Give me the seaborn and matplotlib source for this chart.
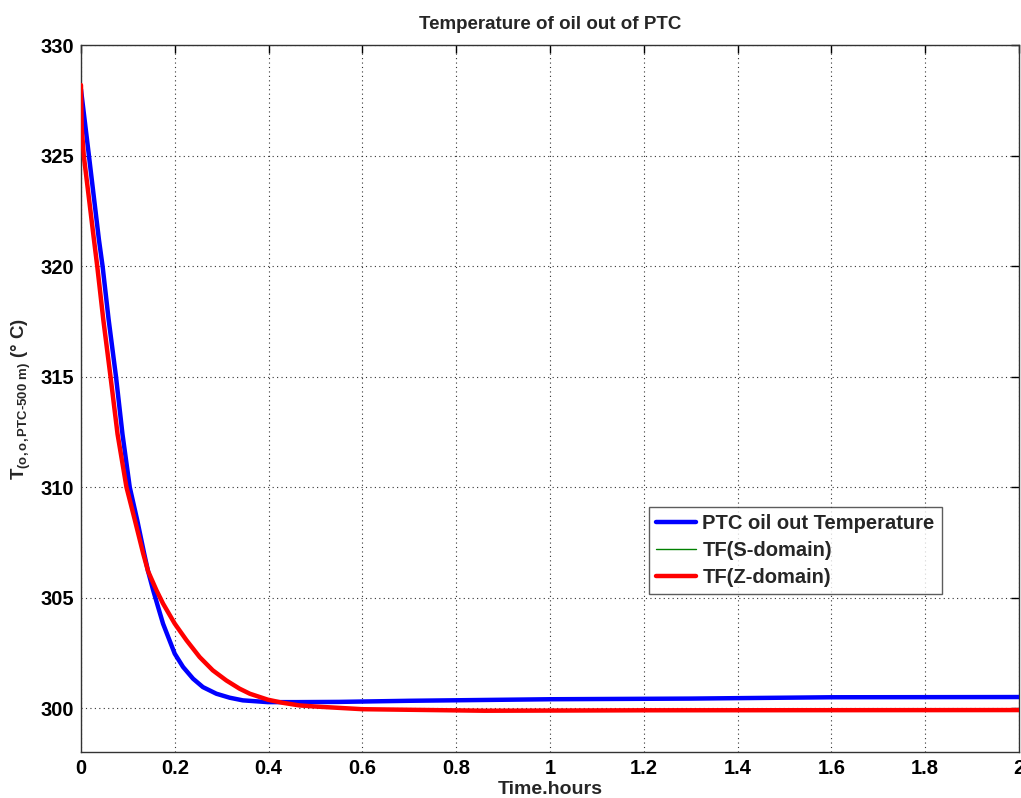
import matplotlib
matplotlib.use("Agg")
import matplotlib.pyplot as plt
import seaborn as sns
import pandas as pd

# ---- data ----
ptc_time = [0, 0.017, 0.0383, 0.0461, 0.0589, 0.0747, 0.0885, 0.104, 0.120, 0.1347,
            0.143, 0.154, 0.1645, 0.175, 0.186, 0.2, 0.2177, 0.239, 0.260, 0.2887,
            0.317, 0.345, 0.3985, 0.46, 0.55, 0.7, 1.0, 1.3, 1.6, 2.0]
ptc_temp = [328.0, 325.0, 321.2, 320.0, 317.6, 315.0, 312.4, 310.0, 308.5, 307.0,
            306.2, 305.33, 304.57, 303.82, 303.22, 302.46, 301.86, 301.33, 300.95, 300.65,
            300.47, 300.35, 300.27, 300.27, 300.28, 300.33, 300.4, 300.43, 300.49, 300.5]

tf_time = [0, 0.0015, 0.006, 0.0277, 0.0347, 0.0475, 0.063, 0.078, 0.097, 0.115,
           0.1326, 0.143, 0.161, 0.175, 0.2, 0.225, 0.253, 0.281, 0.31, 0.338,
           0.36, 0.3985, 0.43, 0.466, 0.5, 0.6, 0.86, 1.2, 2.0]
tf_s_temp = [328.2, 326.3, 325.0, 321.2, 320.0, 317.6, 315.0, 312.4, 310.0, 308.5,
             307.0, 306.2, 305.33, 304.73, 303.82, 303.07, 302.31, 301.71, 301.25, 300.88,
             300.65, 300.38, 300.24, 300.12, 300.07, 299.95, 299.88, 299.9, 299.91]
tf_z_temp = list(tf_s_temp)

x_ticks = [0, 0.2, 0.4, 0.6, 0.8, 1.0, 1.2, 1.4, 1.6, 1.8, 2.0]
x_tick_labels = ["0", "0.2", "0.4", "0.6", "0.8", "1", "1.2", "1.4", "1.6", "1.8", "2"]
y_ticks = [300, 305, 310, 315, 320, 325, 330]

labels = ["PTC oil out Temperature", "TF(S-domain)", "TF(Z-domain)"]

sns.set_style("white")
plt.rcParams["font.family"] = ["Liberation Sans", "DejaVu Sans"]
plt.rcParams["font.weight"] = "bold"
plt.rcParams["mathtext.fontset"] = "custom"
plt.rcParams["mathtext.rm"] = "Liberation Sans:bold"
plt.rcParams["mathtext.bf"] = "Liberation Sans:bold"
plt.rcParams["mathtext.it"] = "Liberation Sans:bold"

fig = plt.figure(figsize=(10.21, 7.98), dpi=100)
ax = fig.add_axes([0.0793, 0.0573, 0.9187, 0.886])

df_ptc = pd.DataFrame({"t": ptc_time, "T": ptc_temp})
df_s = pd.DataFrame({"t": tf_time, "T": tf_s_temp})
df_z = pd.DataFrame({"t": tf_time, "T": tf_z_temp})

sns.lineplot(data=df_ptc, x="t", y="T", ax=ax, color="#0000ff", linewidth=3.2,
             label=labels[0], sort=False, zorder=3)
sns.lineplot(data=df_s, x="t", y="T", ax=ax, color="#008000", linewidth=1.0,
             label=labels[1], sort=False, zorder=2)
sns.lineplot(data=df_z, x="t", y="T", ax=ax, color="#ff0000", linewidth=3.2,
             label=labels[2], sort=False, zorder=4)

ax.set_xlim(0, 2)
ax.set_ylim(298, 330)
ax.set_xticks(x_ticks)
ax.set_xticklabels(x_tick_labels)
ax.set_yticks(y_ticks)

ax.grid(True, linestyle=(0, (1, 3)), color="#333333", linewidth=0.8)
ax.tick_params(direction="in", top=True, right=True, length=6, width=1,
               labelsize=14.5, colors="black", pad=5)
for lab in ax.get_xticklabels() + ax.get_yticklabels():
    lab.set_fontweight("bold")
for sp in ax.spines.values():
    sp.set_color("#333333")
    sp.set_linewidth(1.0)

ax.set_title("Temperature of oil out of PTC", fontsize=13.5, fontweight="bold", pad=12)
ax.set_xlabel("Time.hours", fontsize=14, fontweight="bold", labelpad=2)
ax.set_ylabel(r"$\mathbf{T}_{\mathbf{(o,o,PTC\text{-}500\ m)}}$ (° C)",
              fontsize=13.5, fontweight="bold", labelpad=5)

leg = ax.legend(loc="upper left", bbox_to_anchor=(0.6055, 0.3465), borderaxespad=0,
                fancybox=False, frameon=True, fontsize=14.5, handlelength=2.0,
                handletextpad=0.3, borderpad=0.35, labelspacing=0.4)
leg.get_frame().set_edgecolor("#333333")
leg.get_frame().set_linewidth(1.0)
for t in leg.get_texts():
    t.set_fontweight("bold")

fig.savefig("out.png", dpi=100)
